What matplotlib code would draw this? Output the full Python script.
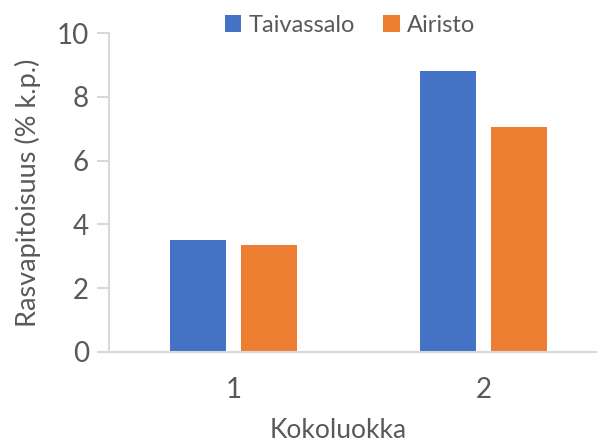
import numpy as np
import matplotlib
matplotlib.use("Agg")
import matplotlib.pyplot as plt

# fat content by size class for the two sites
size_classes = ["1", "2"]
taivassalo = [3.52, 8.81]
airisto = [3.35, 7.05]

BLUE = "#4472C4"
ORANGE = "#ED7D31"
AXIS_GREY = "#D9D9D9"
TEXT_GREY = "#595959"

plt.rcParams["font.family"] = ["Lato", "DejaVu Sans"]

fig = plt.figure(figsize=(5.97, 4.41), dpi=100)
ax = fig.add_axes([108.5 / 597, 1 - 352 / 441, 500 / 597, 319 / 441])

x = np.arange(len(size_classes))
w = 0.224
off = 0.142
ax.bar(x - off, taivassalo, w, color=BLUE, label="Taivassalo")
ax.bar(x + off, airisto, w, color=ORANGE, label="Airisto")

ax.set_xlim(-0.5, 1.5)
ax.set_ylim(0, 10)
ax.set_yticks([0, 2, 4, 6, 8, 10])
ax.set_xticks(x)
ax.set_xticklabels(size_classes)

for side in ["top", "right"]:
    ax.spines[side].set_visible(False)
for side in ["left", "bottom"]:
    ax.spines[side].set_color(AXIS_GREY)
    ax.spines[side].set_linewidth(1.5)

ax.tick_params(axis="y", length=9, width=1.5, color=AXIS_GREY,
               labelsize=20, labelcolor=TEXT_GREY, pad=5)
ax.tick_params(axis="x", length=0, labelsize=20, labelcolor=TEXT_GREY, pad=18)

ax.set_ylabel("Rasvapitoisuus (% k.p.)", fontsize=19.5, color=TEXT_GREY)
ax.yaxis.set_label_coords(-0.135, 0.5)
fig.text(338 / 597, 1 - 430 / 441, "Kokoluokka", fontsize=19, color=TEXT_GREY,
         ha="center", va="center")

ax.legend(loc="center", bbox_to_anchor=(350 / 597, 1 - 25 / 441),
          bbox_transform=fig.transFigure, ncol=2, frameon=False,
          fontsize=17, labelcolor=TEXT_GREY, handlelength=0.7, handleheight=0.7,
          handletextpad=0.3, columnspacing=1.2, borderaxespad=0)

fig.savefig("out.png", dpi=100)
